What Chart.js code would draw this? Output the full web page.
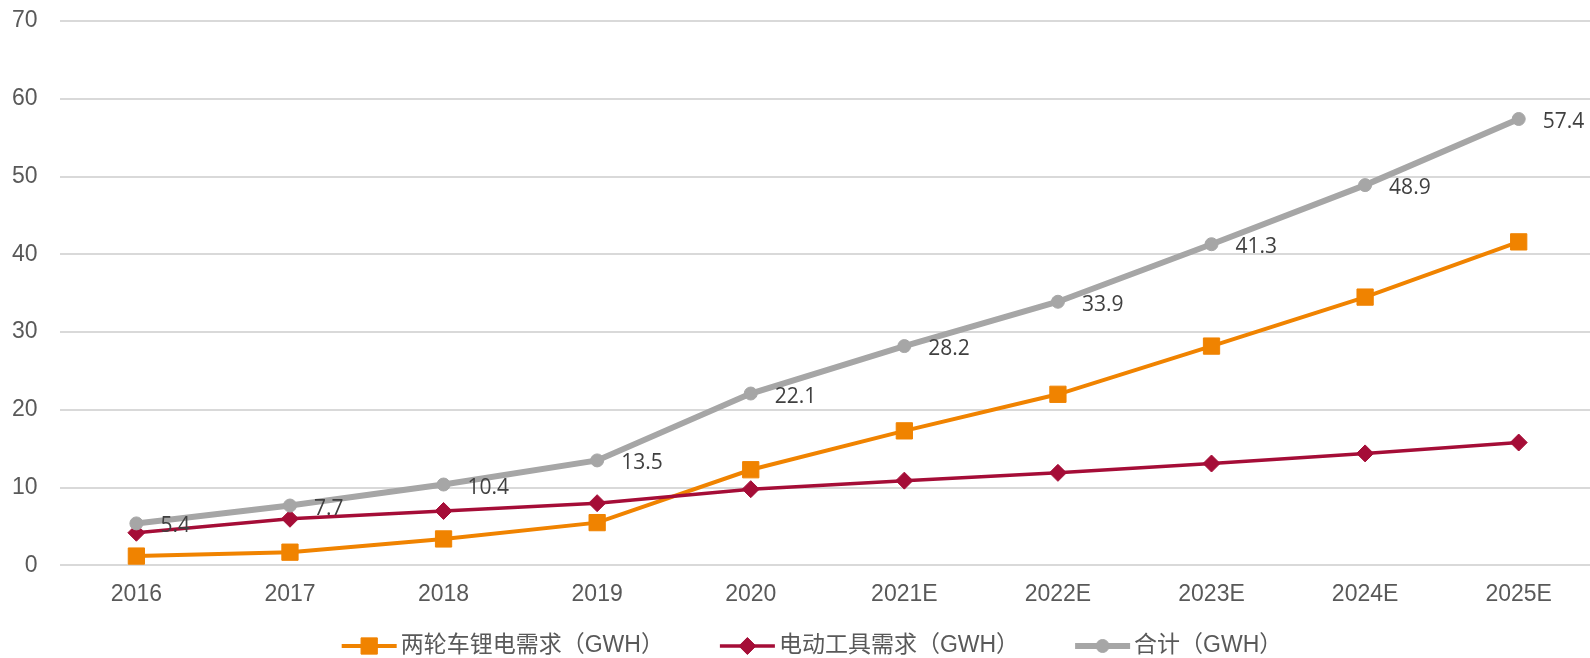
<!DOCTYPE html>
<html>
<head>
<meta charset="utf-8">
<script src="https://cdn.jsdelivr.net/npm/chart.js@4.4.1/dist/chart.umd.min.js"></script>
<style>
  html, body { margin: 0; padding: 0; background: #fff; overflow: hidden; }
  #wrap { width: 1608px; height: 658px; position: relative; }
</style>
</head>
<body>
<div id="wrap"><canvas id="chartCanvas"></canvas></div>
<script>
const years = ["2016", "2017", "2018", "2019", "2020", "2021E", "2022E", "2023E", "2024E", "2025E"];
const twoWheel = [1.2, 1.7, 3.4, 5.5, 12.3, 17.3, 22.0, 28.2, 34.5, 41.6];
const powerTool = [4.2, 6.0, 7.0, 8.0, 9.8, 10.9, 11.9, 13.1, 14.4, 15.8];
const total = [5.4, 7.7, 10.4, 13.5, 22.1, 28.2, 33.9, 41.3, 48.9, 57.4];
const yTicks = [0, 10, 20, 30, 40, 50, 60, 70];

const labelNames = ["两轮车锂电需求（GWH）", "电动工具需求（GWH）", "合计（GWH）"];

const ORANGE = "#F08300";
const RED = "#A50D37";
const GREY = "#A6A6A6";
const TEXT = "#595959";
const AXIS_FONT = "'Liberation Sans', Arial, 'Noto Sans CJK SC', sans-serif";

// value labels next to the total series
const totalLabels = {
    id: "totalLabels",
    afterDatasetsDraw(chart) {
        const meta = chart.getDatasetMeta(2);
        const ctx = chart.ctx;
        ctx.save();
        ctx.font = "21px 'Open Sans', sans-serif";
        ctx.fillStyle = "#404040";
        ctx.textAlign = "left";
        ctx.textBaseline = "middle";
        meta.data.forEach((pt, i) => {
            ctx.fillText(total[i].toFixed(1), pt.x + 24, pt.y + 3);
        });
        ctx.restore();
    }
};

// legend: line sample with marker, like the office chart
const lineLegend = {
    id: "lineLegend",
    afterDraw(chart) {
        const ctx = chart.ctx;
        const sets = chart.data.datasets;
        const sample = 55, gap = 4, spacing = 56;
        ctx.save();
        ctx.font = "23px " + AXIS_FONT;
        const widths = sets.map(ds => sample + gap + ctx.measureText(ds.label).width);
        const full = widths.reduce((a, b) => a + b) + spacing * (sets.length - 1);
        let x = 812 - full / 2;
        const y = 646;
        sets.forEach((ds, i) => {
            ctx.strokeStyle = ds.borderColor;
            ctx.fillStyle = ds.borderColor;
            ctx.lineWidth = ds.borderWidth;
            ctx.beginPath();
            ctx.moveTo(x, y);
            ctx.lineTo(x + sample, y);
            ctx.stroke();
            ctx.lineWidth = 1;
            Chart.helpers.drawPoint(ctx, {
                pointStyle: ds.pointStyle,
                radius: ds.pointRadius,
                rotation: 0,
                borderWidth: 1
            }, x + sample / 2, y);
            ctx.fillStyle = TEXT;
            ctx.textAlign = "left";
            ctx.textBaseline = "middle";
            ctx.fillText(ds.label, x + sample + gap, y);
            x += widths[i] + spacing;
        });
        ctx.restore();
    }
};

const chart = new Chart(document.getElementById("chartCanvas"), {
    type: "line",
    data: {
        labels: years,
        datasets: [{
            label: labelNames[0],
            data: twoWheel,
            borderColor: ORANGE,
            backgroundColor: ORANGE,
            borderWidth: 4,
            pointStyle: "rect",
            pointRadius: 11.5,
            pointBorderWidth: 1,
            order: 3
        }, {
            label: labelNames[1],
            data: powerTool,
            borderColor: RED,
            backgroundColor: RED,
            borderWidth: 3.5,
            pointStyle: "rectRot",
            pointRadius: 8.5,
            pointBorderWidth: 1,
            order: 2
        }, {
            label: labelNames[2],
            data: total,
            borderColor: GREY,
            backgroundColor: GREY,
            borderWidth: 6,
            pointStyle: "circle",
            pointRadius: 6.5,
            pointBorderWidth: 1,
            order: 1
        }]
    },
    options: {
        responsive: true,
        maintainAspectRatio: false,
        animation: false,
        layout: { padding: { top: 21, left: 12, right: 1, bottom: 50 } },
        plugins: {
            legend: { display: false },
            tooltip: { enabled: false }
        },
        scales: {
            x: {
                offset: true,
                // invisible tick marks give the gap between axis and labels
                grid: { drawOnChartArea: false, drawTicks: true, tickLength: 15, tickColor: "rgba(0,0,0,0)", color: "rgba(0,0,0,0)" },
                border: { display: false },
                ticks: {
                    color: TEXT,
                    font: { family: AXIS_FONT, size: 23 },
                    padding: 0,
                    maxRotation: 0
                }
            },
            y: {
                min: 0,
                max: 70,
                afterBuildTicks: axis => { axis.ticks = yTicks.map(v => ({ value: v })); },
                grid: { color: "#D9D9D9", lineWidth: 2, drawTicks: true, tickLength: 22, tickColor: "rgba(0,0,0,0)" },
                border: { display: false },
                ticks: {
                    color: TEXT,
                    font: { family: AXIS_FONT, size: 23 },
                    padding: 0
                }
            }
        }
    },
    plugins: [totalLabels, lineLegend]
});
</script>
</body>
</html>
